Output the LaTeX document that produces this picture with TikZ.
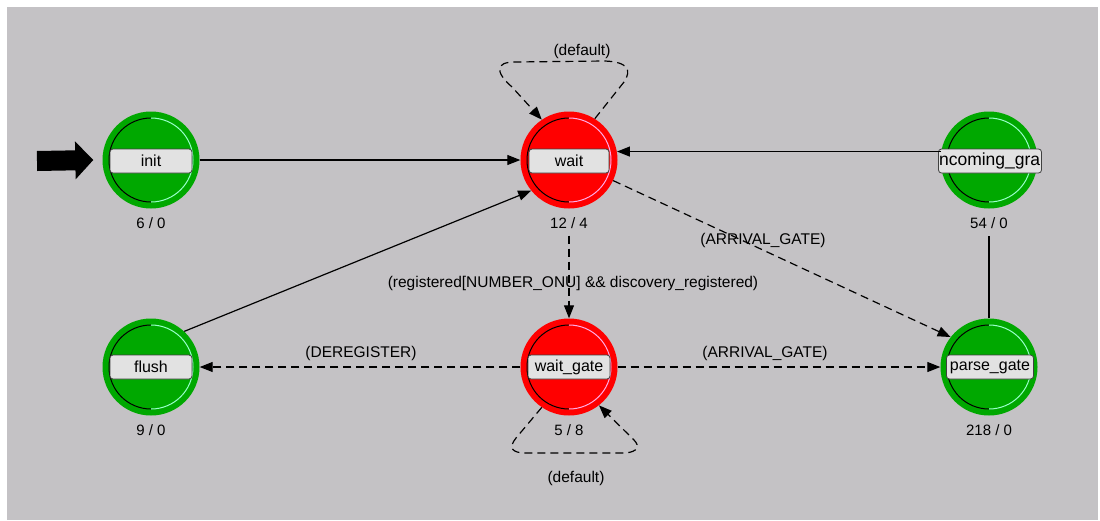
\documentclass[tikz,border=0pt]{standalone}
\usepackage{fontspec}
\setmainfont{Liberation Sans}
\usetikzlibrary{arrows.meta,calc}
\definecolor{bg}{RGB}{196,194,197}
\definecolor{sgreen}{RGB}{0,168,0}
\definecolor{sred}{RGB}{255,0,0}
\definecolor{boxfill}{RGB}{226,226,226}
\definecolor{gshine}{RGB}{150,255,200}
\definecolor{rshine}{RGB}{255,170,230}
\tikzset{
  state/.style={circle, minimum size=97pt, inner sep=0pt},
  gstate/.style={state, fill=sgreen},
  rstate/.style={state, fill=sred},
  lbox/.style={draw=black!75, line width=0.8pt, fill=boxfill, rounded corners=3pt,
    minimum height=24pt, minimum width=82pt, inner sep=0pt, font=\fontsize{16}{16}\selectfont},
  cnt/.style={font=\fontsize{15}{15}\selectfont, inner sep=2pt},
  elabel/.style={font=\fontsize{15.5}{15.5}\selectfont, inner sep=0pt},
  conn/.style={line width=1.2pt, -{Triangle[length=13pt,width=10pt]}},
  dconn/.style={conn, dash pattern=on 8pt off 5pt},
  plainconn/.style={line width=1.2pt},
  startarrow/.style={line width=20pt, -{Triangle[length=18pt,width=37pt]}},
  ringdark/.style={black, line width=1pt},
}
\newcommand{\ring}[2]{%
  \draw[ringdark] ($(#1)+(0,42)$) arc[start angle=90, end angle=270, radius=42];
  \draw[#2, line width=1pt] ($(#1)+(0,42)$) arc[start angle=90, end angle=-90, radius=42];
}
\begin{document}
\begin{tikzpicture}[x=1pt, y=-1pt]
  \useasboundingbox (0,0) rectangle (1100,520);
  \fill[white] (0,0) rectangle (1100,520);
  \fill[bg] (7,7) rectangle (1098,520);

  % states
  \node[gstate] (init)  at (151,160) {};
  \node[rstate] (wait)  at (569,160) {};
  \node[gstate] (ig)    at (989,160) {};
  \node[gstate] (flush) at (151,367) {};
  \node[rstate] (wg)    at (569,367) {};
  \node[gstate] (pg)    at (989,367) {};

  \ring{init}{gshine}
  \ring{wait}{rshine}
  \ring{ig}{gshine}
  \ring{flush}{gshine}
  \ring{wg}{rshine}
  \ring{pg}{gshine}

  % name boxes
  \node[lbox] (initbox)  at (151,161) {init};
  \node[lbox, minimum width=80pt] (waitbox)  at (569,161) {wait};
  \node[lbox, minimum width=103pt] (igbox) at (990,161) {};
  \begin{scope}
    \clip[rounded corners=3pt] ($(igbox.south west)+(1,-1)$) rectangle ($(igbox.north east)+(-1,1)$);
    \node[font=\fontsize{17.5}{17.5}\selectfont, inner sep=0pt] (igtext) at (995,161) {incoming\_grant};
  \end{scope}
  \node[lbox] (flushbox) at (151,367) {flush};
  \node[lbox] (wgbox)    at (569,367) {wait\_gate};
  \node[lbox, minimum width=87pt] (pgbox) at (990,367) {parse\_gate};

  % counters
  \node[cnt] (c6)   at (151,223) {6 / 0};
  \node[cnt] (c12)  at (569,223) {12 / 4};
  \node[cnt] (c54)  at (989,223) {54 / 0};
  \node[cnt] (c9)   at (151,430) {9 / 0};
  \node[cnt] (c5)   at (569,430) {5 / 8};
  \node[cnt] (c218) at (989,430) {218 / 0};

  % start arrow
  \coordinate (start) at (37,161);
  \draw[startarrow] (start) -- ([xshift=-9pt]init.west);

  % transitions
  \draw[conn] (init) -- (wait);
  \draw[conn] (ig.170) -- (wait.10);
  \draw[conn] (flush.47) -- (wait.219);
  \draw[plainconn, shorten >=5pt] (pg) -- (c54);
  \draw[dconn] (wait.-25) -- (pg.142);
  \draw[dconn, shorten <=5pt] (c12) -- (wg);
  \draw[dconn] (wg) -- (flush);
  \draw[dconn] (wg) -- (pg);
  \draw[dconn] (wait.58) -- (624,82) .. controls (632,70) and (628,62) .. (605,61)
    -- (515,62) .. controls (495,62) and (495,72) .. (512,87) -- (wait.124);
  \draw[dconn] (wg.236) -- (516,438) .. controls (508,448) and (512,453) .. (526,453)
    -- (625,453) .. controls (638,452) and (640,446) .. (634,440) -- (wg.308);

  % labels
  \node[elabel] (ldef1) at (582,51) {(default)};
  \node[elabel] (larr1) at (763,240) {(ARRIVAL\_GATE)};
  \node[elabel] (lreg)  at (573,283) {(registered[NUMBER\_ONU] \&\& discovery\_registered)};
  \node[elabel] (lder)  at (361,353) {(DEREGISTER)};
  \node[elabel] (larr2) at (765,353) {(ARRIVAL\_GATE)};
  \node[elabel] (ldef2) at (576,478) {(default)};
\end{tikzpicture}
\end{document}
